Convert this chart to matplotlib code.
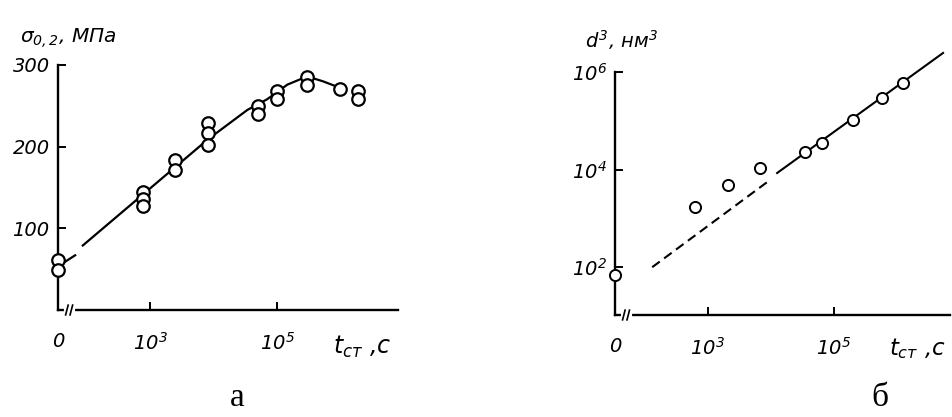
import numpy as np
import matplotlib
matplotlib.use("Agg")
import matplotlib.pyplot as plt

plt.rcParams['font.family'] = ['Liberation Sans Narrow', 'DejaVu Sans']
plt.rcParams['font.style'] = 'italic'
plt.rcParams['mathtext.fontset'] = 'custom'
plt.rcParams['mathtext.rm'] = 'Liberation Sans Narrow:italic'
plt.rcParams['mathtext.it'] = 'Liberation Sans Narrow:italic'
plt.rcParams['mathtext.sf'] = 'Liberation Sans Narrow:italic'

# ---- panel а: yield strength vs log ageing time ----
a_t0_sigma = [61, 49]                                   # t = 0
a_logt = [2.89, 2.89, 2.89, 3.39, 3.39, 3.91, 3.91, 3.91,
          4.69, 4.69, 5.0, 5.0, 5.47, 5.47, 5.99, 6.27, 6.27]
a_sigma = [145, 136, 127, 184, 172, 229, 217, 202,
           250, 240, 268, 258, 285, 276, 270, 268, 258]
a_curve_logt = [1.94, 3.91, 4.53, 4.84, 5.16, 5.47, 5.72, 5.99]
a_curve_sigma = [79, 209, 245, 258, 276, 286, 280, 272]
a_stub_logt = [1.66, 1.82]
a_stub_sigma = [59, 67]
a_yticks = [100, 200, 300]
a_xticks = [3, 5]
a_xticklabels = [r'$10^3$', r'$10^5$']

# ---- panel б: cubed grain size vs log ageing time ----
b_t0_logd = 1.84                                        # t = 0
b_logt = [2.80, 3.32, 3.83, 4.54, 4.81, 5.30, 5.77, 6.09]
b_logd = [3.23, 3.68, 4.03, 4.36, 4.54, 5.02, 5.47, 5.77]
b_dash_logt = [2.12, 3.98]
b_dash_logd = [2.00, 3.78]
b_solid_logt = [4.10, 6.73]
b_solid_logd = [3.93, 6.39]
b_ytick_exp = [2, 4, 6]
b_xticks = [3, 5]
b_xticklabels = [r'$10^3$', r'$10^5$']

W, H = 952, 417
fig = plt.figure(figsize=(W / 100, H / 100), dpi=100)


def box(left, right, bottom, top):
    return [left / W, 1 - bottom / H, (right - left) / W, (bottom - top) / H]


def style_axes(ax):
    for s in ('top', 'right'):
        ax.spines[s].set_visible(False)
    for s in ('left', 'bottom'):
        ax.spines[s].set_linewidth(1.7)
    ax.tick_params(direction='in', length=6, width=1.4, labelsize=14)
    ax.tick_params(axis='x', pad=16)
    ax.tick_params(axis='y', pad=6)


def axis_break(ax, x0):
    # small break mark on the time axis just right of the origin
    tr = ax.get_xaxis_transform()
    ax.plot([x0 + 0.13, x0 + 0.24], [0, 0], color='white', lw=3,
            transform=tr, clip_on=False, zorder=5)
    for dx in (0.14, 0.21):
        ax.plot([x0 + dx - 0.02, x0 + dx + 0.02], [-0.02, 0.02],
                color='black', lw=1.2, transform=tr, clip_on=False, zorder=6)


mk = dict(marker='o', mfc='white', mec='black', ls='none', clip_on=False, zorder=4)

# panel а
a_x0 = 1.55
ax1 = fig.add_axes(box(58, 398, 310, 65))
ax1.set_xlim(a_x0, 6.9)
ax1.set_ylim(0, 300)
style_axes(ax1)
ax1.plot(a_curve_logt, a_curve_sigma, color='black', lw=1.6, zorder=3)
ax1.plot(a_stub_logt, a_stub_sigma, color='black', lw=1.6, zorder=3)
ax1.plot(a_logt, a_sigma, ms=9, mew=1.6, **mk)
ax1.plot([a_x0] * len(a_t0_sigma), a_t0_sigma, ms=9, mew=1.6, **mk)
ax1.set_yticks(a_yticks)
ax1.set_xticks([a_x0] + a_xticks)
ax1.set_xticklabels(['0'] + a_xticklabels)
axis_break(ax1, a_x0)
fig.text(20 / W, 1 - 38 / H, r'$\sigma_{0,2}$, МПа', fontsize=14.5, va='center')
fig.text(333 / W, 1 - 347 / H, r'$t_{ст}$ ,с', fontsize=17, va='center')

# panel б
b_x0 = 1.53
ax2 = fig.add_axes(box(615, 950, 315, 72))
ax2.set_yscale('log')
ax2.set_xlim(b_x0, 6.84)
ax2.set_ylim(10 ** 1.02, 1e6)
style_axes(ax2)
ax2.minorticks_off()
ax2.plot(b_dash_logt, 10 ** np.array(b_dash_logd), color='black', lw=1.5,
         dashes=(4.5, 2.6), zorder=3)
ax2.plot(b_solid_logt, 10 ** np.array(b_solid_logd), color='black', lw=1.5,
         clip_on=False, zorder=3)
ax2.plot(b_logt, 10 ** np.array(b_logd), ms=8, mew=1.4, **mk)
ax2.plot([b_x0], [10 ** b_t0_logd], ms=8, mew=1.4, **mk)
ax2.set_yticks([10.0 ** e for e in b_ytick_exp])
ax2.set_yticklabels([rf'$10^{e}$' for e in b_ytick_exp])
ax2.set_xticks([b_x0] + b_xticks)
ax2.set_xticklabels(['0'] + b_xticklabels)
axis_break(ax2, b_x0)
fig.text(585 / W, 1 - 40 / H, r'$d^3$, нм$^3$', fontsize=14, va='center')
fig.text(889 / W, 1 - 349 / H, r'$t_{ст}$ ,с', fontsize=16.5, va='center')

# panel letters
fig.text(237 / W, 1 - 398 / H, 'а', family='Liberation Serif', style='normal',
         fontsize=24, ha='center', va='center')
fig.text(880 / W, 1 - 398 / H, 'б', family='Liberation Serif', style='normal',
         fontsize=24, ha='center', va='center')

fig.savefig('out.png', dpi=100, facecolor='white')
